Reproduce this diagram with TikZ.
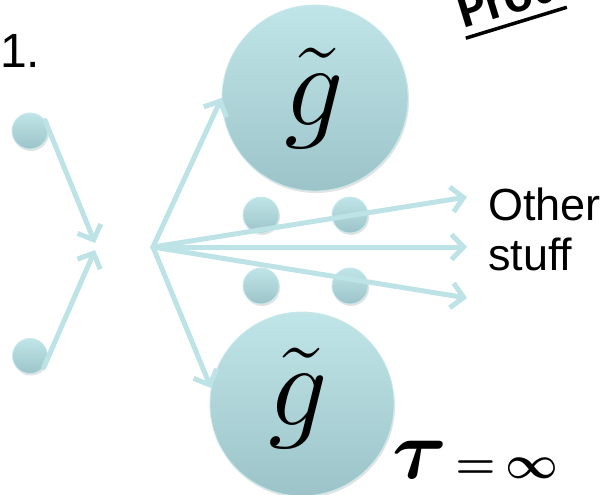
\RequirePackage{fix-cm}
\documentclass[tikz,border=0pt]{standalone}
\usepackage{amsmath,bm}
\usepackage{fontspec}
\usepackage{tikz}
\usetikzlibrary{arrows.meta,shadows}
\newfontfamily\sansfam{Liberation Sans}
\newfontfamily\prodfont{Carlito}
\definecolor{blob}{RGB}{192,229,233}
\definecolor{blobdark}{RGB}{156,196,200}
\definecolor{blobrim}{RGB}{200,232,235}
\definecolor{flowcol}{RGB}{189,227,231}

\begin{document}
\begin{tikzpicture}[x=1pt,y=-1pt,
  blobstyle/.style={circle, inner sep=0pt, top color=blob, bottom color=blobdark,
    draw=blobrim, line width=0.8pt,
    drop shadow={shadow xshift=1pt, shadow yshift=-2pt, opacity=0.22}},
  flow/.style={draw=flowcol, line width=5pt, line cap=round,
    -{Straight Barb[length=12pt,width=25pt]}},
  lbl/.style={inner sep=0pt},
  glbl/.style={inner sep=0pt, font=\fontsize{118}{118}\selectfont}]
  \useasboundingbox (0,0) rectangle (611,495);
  \clip (0,0) rectangle (611,495);
  % incoming partons
  \node[blobstyle, minimum size=36pt] (lt) at (30,131) {};
  \node[blobstyle, minimum size=35pt] (lb) at (30,356) {};
  % spectators
  \node[blobstyle, minimum size=36pt] (s1) at (261,215) {};
  \node[blobstyle, minimum size=36pt] (s2) at (350,215) {};
  \node[blobstyle, minimum size=36pt] (s3) at (261,286) {};
  \node[blobstyle, minimum size=36pt] (s4) at (350,286) {};
  % gluinos
  \node[blobstyle, minimum size=186pt] (gt) at (315,98) {};
  \node[blobstyle, minimum size=184pt] (gb) at (302,404) {};
  \node[glbl] (gtl) at (314,98) {$\tilde{g}$};
  \node[glbl] (gbl) at (298,398) {$\tilde{g}$};
  \coordinate (mtop) at (95,243);
  \coordinate (mbot) at (95,250);
  \coordinate (fan) at (153,247);
  \coordinate (o1) at (467,197);
  \coordinate (o2) at (467,247);
  \coordinate (o3) at (467,298);
  \draw[flow] (lt.35) -- (mtop);
  \draw[flow] (lb.-40) -- (mbot);
  \draw[flow] (fan) -- (gt.west);
  \draw[flow] (fan) -- (gb.170);
  \foreach \o in {o1,o2,o3}
    \draw[flow] (fan) -- (\o);
  % labels
  \node[lbl, anchor=base west, font=\sansfam\fontsize{48}{48}\selectfont] (num) at (0,68) {1.};
  \node[lbl, anchor=west, align=left, font=\sansfam\fontsize{45}{50}\selectfont] (other) at (488,229) {Other\\stuff};
  \node[lbl, anchor=base west, font=\fontsize{46}{46}\selectfont] (tau) at (392,478)
    {{\fontsize{84}{84}\selectfont$\bm{\tau}$}\hspace{8pt}$\bm{=}$\hspace{10pt}$\bm{\infty}$};
  \node[inner xsep=0pt, inner ysep=9pt, rotate=17, anchor=base west,
    font=\prodfont\bfseries\fontsize{54}{54}\selectfont] (prod) at (463,29) {Prod};
  \draw[line width=3.5pt] (prod.south west) -- (prod.south east);
\end{tikzpicture}
\end{document}
